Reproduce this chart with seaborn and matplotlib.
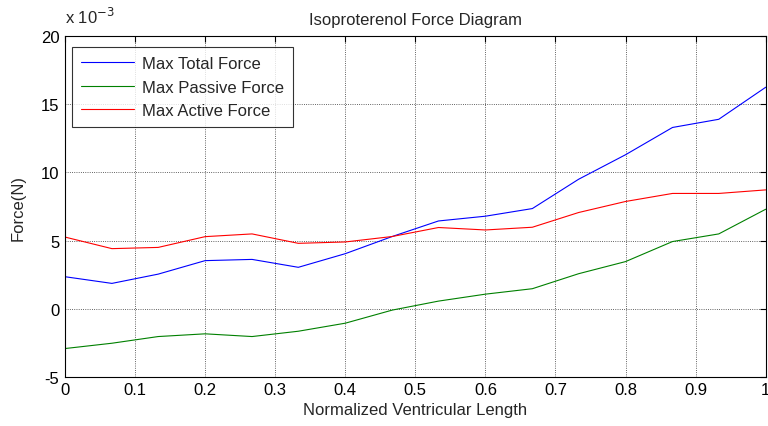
import numpy as np
import pandas as pd
import matplotlib
matplotlib.use('Agg')
import matplotlib.pyplot as plt
import seaborn as sns
from matplotlib.ticker import FuncFormatter

# Normalized ventricular length, 16 samples
length = [0.0, 0.067, 0.133, 0.2, 0.267, 0.333, 0.4, 0.467,
          0.533, 0.6, 0.667, 0.733, 0.8, 0.867, 0.933, 1.0]

# Forces in units of 1e-3 N
total_force = [2.35, 1.86, 2.54, 3.53, 3.62, 3.04, 4.04, 5.3,
               6.44, 6.79, 7.35, 9.5, 11.3, 13.3, 13.9, 16.25]
passive_force = [-2.92, -2.53, -2.04, -1.84, -2.04, -1.65, -1.06, -0.1,
                 0.56, 1.07, 1.47, 2.57, 3.46, 4.93, 5.49, 7.3]
active_force = [5.26, 4.41, 4.5, 5.29, 5.49, 4.8, 4.9, 5.3,
                5.96, 5.78, 5.98, 7.06, 7.87, 8.46, 8.46, 8.72]

labels = ['Max Total Force', 'Max Passive Force', 'Max Active Force']
colors = ['#0000ff', '#008000', '#ff0000']

df = pd.DataFrame({
    'length': length * 3,
    'force': np.array(total_force + passive_force + active_force) * 1e-3,
    'series': [labels[0]] * 16 + [labels[1]] * 16 + [labels[2]] * 16,
})

sns.set_style('white')
plt.rcParams['font.family'] = ['Liberation Sans', 'DejaVu Sans']
fs = 12

fig = plt.figure(figsize=(7.68, 4.27), dpi=100)
ax = fig.add_axes([0.0846, 0.115, 0.9124, 0.798])

sns.lineplot(data=df, x='length', y='force', hue='series', hue_order=labels,
             palette=colors, linewidth=0.8, ax=ax)

ax.set_xlim(0, 1)
ax.set_ylim(-5e-3, 20e-3)
ax.set_xticks(np.arange(0, 1.01, 0.1))
ax.set_yticks(np.arange(-5e-3, 20.1e-3, 5e-3))
ax.xaxis.set_major_formatter(FuncFormatter(lambda v, p: '%g' % round(v, 2)))
ax.yaxis.set_major_formatter(FuncFormatter(lambda v, p: '%g' % round(v * 1e3, 3)))

ax.grid(True, color='#303030', linestyle=':', linewidth=0.6)
ax.tick_params(direction='in', length=4, width=0.8, top=True, right=True,
               labelsize=fs, colors='black', pad=4)
for s in ax.spines.values():
    s.set_color('black')
    s.set_linewidth(0.8)

ax.text(0.0, 1.03, r'x 10$^{-3}$', transform=ax.transAxes, fontsize=fs,
        ha='left', va='bottom')

ax.set_title('Isoproterenol Force Diagram', fontsize=fs, pad=9)
ax.set_xlabel('Normalized Ventricular Length', fontsize=fs, labelpad=3)
ax.set_ylabel('Force(N)', fontsize=fs, labelpad=11)

leg = ax.legend(loc='upper left', bbox_to_anchor=(0.01, 0.968), fontsize=fs,
                frameon=True, fancybox=False, edgecolor='black',
                handlelength=3.2, handletextpad=0.45, borderpad=0.55,
                labelspacing=0.5, borderaxespad=0)
leg.get_frame().set_linewidth(0.8)

fig.savefig('out.png', dpi=100)
